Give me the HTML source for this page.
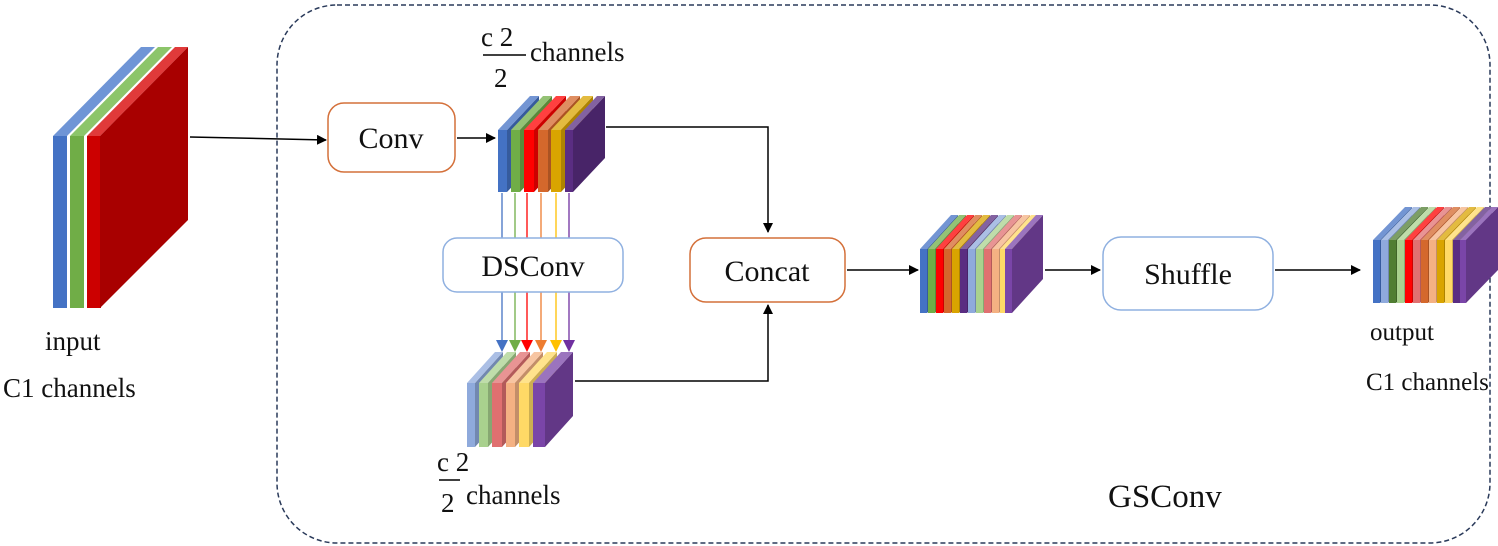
<!DOCTYPE html>
<html><head><meta charset="utf-8"><style>
html,body{margin:0;padding:0;background:#fff;}
svg{display:block;}
svg text{font-family:"Liberation Serif","DejaVu Serif",serif !important;fill:#111;}
</style></head><body>
<svg id="s" width="1498" height="546" viewBox="0 0 1498 546" xmlns="http://www.w3.org/2000/svg" font-family="Liberation Serif, serif">
<defs>
<marker id="a" markerWidth="10" markerHeight="10" refX="9" refY="5" orient="auto" markerUnits="userSpaceOnUse"><path d="M0,0 L10,5 L0,10 z" fill="#000"/></marker>
</defs>
<rect x="277" y="5" width="1213" height="538" rx="60" fill="none" stroke="#2a3a5a" stroke-width="1.5" stroke-dasharray="5,3"/>
<g id="slabs"></g>
<g stroke="#000" stroke-width="1.5" fill="none" marker-end="url(#a)">
<line x1="190" y1="137" x2="326" y2="140"/>
<line x1="457" y1="138" x2="495" y2="138"/>
<polyline points="606,127 768,127 768,232"/>
<polyline points="575,381 768,381 768,305"/>
<line x1="847" y1="270" x2="918" y2="270"/>
<line x1="1045" y1="270" x2="1100" y2="270"/>
<line x1="1275" y1="270" x2="1360" y2="270"/>
</g>
<g id="vl"></g>
<rect x="328" y="103" width="127" height="69" rx="16" fill="#fff" stroke="#d4703a" stroke-width="1.5"/>
<text font-family="Liberation Serif, serif" x="391" y="148" font-size="30" text-anchor="middle">Conv</text>
<rect x="443" y="238" width="180" height="54" rx="14" fill="#fff" stroke="#8fb0e0" stroke-width="1.5"/>
<text font-family="Liberation Serif, serif" x="533" y="276" font-size="30" text-anchor="middle">DSConv</text>
<rect x="690" y="238" width="155" height="64" rx="16" fill="#fff" stroke="#d4703a" stroke-width="1.5"/>
<text font-family="Liberation Serif, serif" x="767" y="281" font-size="30" text-anchor="middle">Concat</text>
<rect x="1103" y="237" width="170" height="73" rx="18" fill="#fff" stroke="#8fb0e0" stroke-width="1.5"/>
<text font-family="Liberation Serif, serif" x="1188" y="284" font-size="30" text-anchor="middle">Shuffle</text>
<text font-family="Liberation Serif, serif" x="45" y="350" font-size="27">input</text>
<text font-family="Liberation Serif, serif" x="3" y="397" font-size="27">C1 channels</text>
<text font-family="Liberation Serif, serif" x="1370" y="340" font-size="25">output</text>
<text font-family="Liberation Serif, serif" x="1366" y="390" font-size="25">C1 channels</text>
<text font-family="Liberation Serif, serif" x="1108" y="507" font-size="33">GSConv</text>
<text font-family="Liberation Serif, serif" x="481" y="46" font-size="27">c 2</text>
<line x1="483" y1="55" x2="526" y2="55" stroke="#000" stroke-width="1.5"/>
<text font-family="Liberation Serif, serif" x="494" y="87" font-size="27">2</text>
<text font-family="Liberation Serif, serif" x="530" y="61" font-size="27">channels</text>
<text font-family="Liberation Serif, serif" x="437" y="471" font-size="27">c 2</text>
<line x1="439" y1="480" x2="460" y2="480" stroke="#000" stroke-width="1.5"/>
<text font-family="Liberation Serif, serif" x="441" y="512" font-size="27">2</text>
<text font-family="Liberation Serif, serif" x="466" y="504" font-size="27">channels</text>
</svg>
<script>
var NS="http://www.w3.org/2000/svg";
var g=document.getElementById('slabs');
function shade(c,f){var n=parseInt(c.slice(1),16);var r=n>>16,gg=(n>>8)&255,b=n&255;
 function m(v){return Math.max(0,Math.min(255,Math.round(f<1?v*f:v+(255-v)*(f-1))));}
 return 'rgb('+m(r)+','+m(gg)+','+m(b)+')';}
function poly(pts,fill){var p=document.createElementNS(NS,'polygon');p.setAttribute('points',pts.map(function(q){return q.join(',')}).join(' '));p.setAttribute('fill',fill);g.appendChild(p);}
function block(xs,ws,cols,y,h,dx,dy){
 for(var i=0;i<xs.length;i++){var x=xs[i],w=ws[i],c=cols[i];
  poly([[x+w,y],[x+w+dx,y-dy],[x+w+dx,y+h-dy],[x+w,y+h]],shade(c,0.8));
  poly([[x,y],[x+dx,y-dy],[x+w+dx,y-dy],[x+w,y]],shade(c,1.25));
  poly([[x,y],[x+w,y],[x+w,y+h],[x,y+h]],c);}
}
var B='#4472c4',G='#70ad47',R='#ff0000',O='#d4682c',Y='#d9a400',P='#5a2d82';
var LB='#8faadc',LG='#a9d18e',LR='#e07070',LO='#f4b183',LY='#ffd966',LP='#7a45a8';
block([53,70,87],[14,14,14],[B,G,'#cc0000'],136,172,0,0);
poly([[53,136],[141,47],[155,47],[67,136]],'#6f95d6');
poly([[70,136],[158,47],[172,47],[84,136]],'#8cc56a');
poly([[87,136],[175,47],[188,47],[100,136]],'#e03a3a');
poly([[100,136],[188,47],[188,220],[100,308]],'#a80000');
block([498,511,524,538,551,565],[9,9,10,10,10,8],[B,G,R,O,Y,P],130,62,32,34);
block([467,479,492,506,519,533],[8,9,10,9,10,12],[LB,LG,LR,LO,LY,LP],383,64,28,31);
block([920,928,936,944,952,960,968,976,984,992,1000,1005],[7,7,7,7,7,7,7,7,7,7,6,7],[B,G,R,O,Y,P,LB,LG,LR,LO,LY,LP],249,64,31,34);
block([1373,1381,1389,1397,1405,1413,1421,1429,1437,1445,1453,1460],[7,7,7,7,7,7,7,7,7,7,7,6],[B,LB,'#507e32',LG,R,LR,O,LO,Y,LY,P,LP],240,63,32,33);
var vl=document.getElementById('vl');
var vx=[502,515,527,541,556,569],vc=['#4472c4','#70ad47','#ff0000','#ed7d31','#ffc000','#7030a0'];
for(var i=0;i<6;i++){var l=document.createElementNS(NS,'line');l.setAttribute('x1',vx[i]);l.setAttribute('x2',vx[i]);l.setAttribute('y1',193);l.setAttribute('y2',344);l.setAttribute('stroke',vc[i]);l.setAttribute('stroke-width',1.3);vl.appendChild(l);
 var p=document.createElementNS(NS,'polygon');p.setAttribute('points',(vx[i]-6)+',340 '+(vx[i]+6)+',340 '+vx[i]+',352');p.setAttribute('fill',vc[i]);vl.appendChild(p);}
</script>
</body></html>
